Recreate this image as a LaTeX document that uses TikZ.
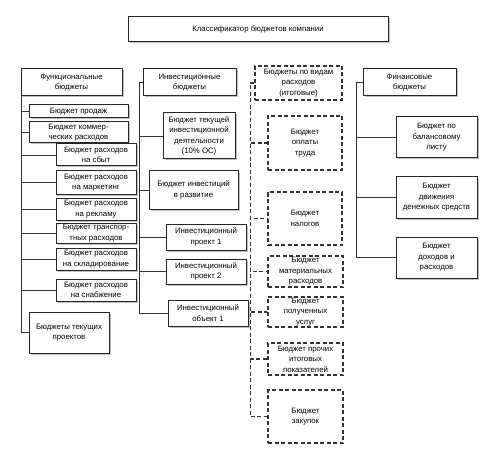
\documentclass[tikz,border=0pt]{standalone}
\usepackage{fontspec}
\setmainfont{Liberation Sans}
\usetikzlibrary{calc,shadows}
\tikzset{blk/.style={draw=black!85, line width=1pt, fill=white, align=center, inner sep=1pt,
    font=\fontsize{7.8}{10.5}\selectfont,
    drop shadow={shadow xshift=1.5pt, shadow yshift=-1.5pt, fill=black!35, opacity=0.7}},
  dblk/.style={draw=black!80, line width=1.2pt, dash pattern=on 4pt off 2.5pt, align=center,
    inner sep=1pt, font=\fontsize{7.8}{10.5}\selectfont},
  ln/.style={draw=black!80, line width=0.9pt},
  dln/.style={draw=black!80, line width=1.2pt, dash pattern=on 4pt off 2.5pt}}

\begin{document}
\begin{tikzpicture}[x=1pt, y=-1pt]
  \useasboundingbox (0,0) rectangle (500,449);
  % classifier on top
  \node[blk, minimum width=260pt, minimum height=25pt] (top) at (258,29.5) {Классификатор бюджетов компании};
  % column heads
  \node[blk, minimum width=101pt, minimum height=27pt] (fun) at (71.5,82.5) {Функциональные\\бюджеты};
  \node[blk, minimum width=93pt, minimum height=27pt] (inv) at (189.5,82.5) {Инвестиционные\\бюджеты};
  \node[dblk, minimum width=87pt, minimum height=34pt] (vid) at (298.5,83) {Бюджеты по видам\\расходов\\(итоговые)};
  \node[blk, minimum width=93pt, minimum height=27pt] (fin) at (409.5,82.5) {Финансовые\\бюджеты};
  % functional budgets
  \node[blk, minimum width=99pt, minimum height=13pt] (f1) at (78.5,111.5) {Бюджет продаж};
  \node[blk, minimum width=99pt, minimum height=21pt] (f2) at (78.5,132.5) {Бюджет коммер-\\ческих расходов};
  \foreach \n/\y/\h/\t in {f3/155/22/{Бюджет расходов\\на сбыт}, f4/182.5/23/{Бюджет расходов\\на маркетинг},
      f5/209/22/{Бюджет расходов\\на рекламу}, f6/233/20/{Бюджет транспор-\\тных расходов},
      f7/259/22/{Бюджет расходов\\на складирование}, f8/290/22/{Бюджет расходов\\на снабжение}}{
    \node[blk, minimum width=80pt, minimum height=\h pt] (\n) at (96,\y) {\t};
  }
  \node[blk, minimum width=80pt, minimum height=41pt] (f9) at (69,332.5) {Бюджеты текущих\\проектов};
  \foreach \b in {f1,f2,f3,f4,f5,f6,f7,f8,f9}{\draw[ln] ([xshift=1pt]fun.south west) |- (\b.west);}
  % investment budgets
  \node[blk, minimum width=72pt, minimum height=46pt] (i1) at (199,136) {Бюджет текущей\\инвестиционной\\деятельности\\(10\% ОС)};
  \node[blk, minimum width=89pt, minimum height=38pt] (i2) at (193.5,190) {Бюджет инвестиций\\в развитие};
  \node[blk, minimum width=80pt, minimum height=26pt] (i3) at (206,237) {Инвестиционный\\проект 1};
  \node[blk, minimum width=80pt, minimum height=25pt] (i4) at (206,271.5) {Инвестиционный\\проект 2};
  \node[blk, minimum width=80pt, minimum height=26pt] (i5) at (208,313) {Инвестиционный\\объект 1};
  \foreach \b in {i1,i2,i3,i4,i5}{\draw[ln] (inv.west) -- ++(-3,0) |- (\b.west);}
  % budgets by kind of expense
  \node[dblk, minimum width=74pt, minimum height=54pt] (v1) at (305,143) {Бюджет\\оплаты\\труда};
  \node[dblk, minimum width=74pt, minimum height=53pt] (v2) at (305,218.5) {Бюджет\\налогов};
  \node[dblk, minimum width=75pt, minimum height=31pt] (v3) at (305.5,271.5) {Бюджет\\материальных\\расходов};
  \node[dblk, minimum width=75pt, minimum height=28pt] (v4) at (305.5,312) {Бюджет\\полученных\\услуг};
  \node[dblk, minimum width=75pt, minimum height=32pt] (v5) at (305.5,359) {Бюджет прочих\\итоговых\\показателей};
  \node[dblk, minimum width=75pt, minimum height=53pt] (v6) at (305.5,416.5) {Бюджет\\закупок};
  \foreach \b in {v1,v2,v3,v4,v5,v6}{\draw[dln] (vid.west) -- ++(-4,0) |- (\b.west);}
  % financial budgets
  \node[blk, minimum width=81pt, minimum height=41pt] (b1) at (436.5,137.5) {Бюджет по\\балансовому\\листу};
  \node[blk, minimum width=81pt, minimum height=41pt] (b2) at (436.5,197.5) {Бюджет\\движения\\денежных средств};
  \node[blk, minimum width=81pt, minimum height=41pt] (b3) at (436.5,257.5) {Бюджет\\доходов и\\расходов};
  \foreach \b in {b1,b2,b3}{\draw[ln] (fin.west) -- ++(-6,0) |- (\b.west);}
\end{tikzpicture}
\end{document}
